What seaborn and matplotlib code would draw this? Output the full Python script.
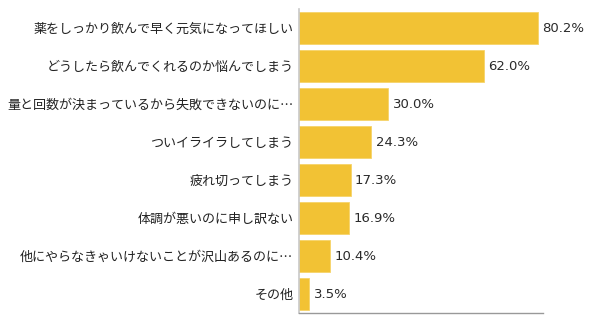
import matplotlib
matplotlib.use("Agg")
import matplotlib.pyplot as plt
import seaborn as sns
import pandas as pd

categories = [
    "薬をしっかり飲んで早く元気になってほしい",
    "どうしたら飲んでくれるのか悩んでしまう",
    "量と回数が決まっているから失敗できないのに…",
    "ついイライラしてしまう",
    "疲れ切ってしまう",
    "体調が悪いのに申し訳ない",
    "他にやらなきゃいけないことが沢山あるのに…",
    "その他",
]
values = [80.2, 62.0, 30.0, 24.3, 17.3, 16.9, 10.4, 3.5]

sns.set_theme(style="white")
plt.rcParams['font.family'] = ['Noto Sans CJK JP', 'DejaVu Sans']

df = pd.DataFrame({"category": categories, "value": values})

fig = plt.figure(figsize=(6.0, 3.22), dpi=100)
ax = fig.add_axes([299/600, 9/322, 244/600, 304/322])
sns.barplot(data=df, y="category", x="value", orient="h", color="#F2C234",
            saturation=1, width=0.86, edgecolor="#F6D46A", linewidth=0.6, ax=ax)

ax.set_xlim(0, 81.9)
ax.set_ylim(len(categories) - 0.5, -0.5)
ax.set_xlabel("")
ax.set_ylabel("")
ax.set_xticks([])
ax.tick_params(axis="y", length=0, pad=4, labelsize=9.4, labelcolor="#222222")
for s in ["top", "right"]:
    ax.spines[s].set_visible(False)
ax.spines["left"].set_color("#C8C8C8")
ax.spines["left"].set_linewidth(1.2)
ax.spines["bottom"].set_color("#999999")
ax.spines["bottom"].set_linewidth(1.0)

for i, v in enumerate(values):
    ax.annotate(f"{v:.1f}%", xy=(v, i), xytext=(3, 0), textcoords="offset points",
                va="center", ha="left", fontsize=9.5, color="#2a2a2a",
                family=["DejaVu Sans"], annotation_clip=False)

fig.savefig("out.png", dpi=100)
